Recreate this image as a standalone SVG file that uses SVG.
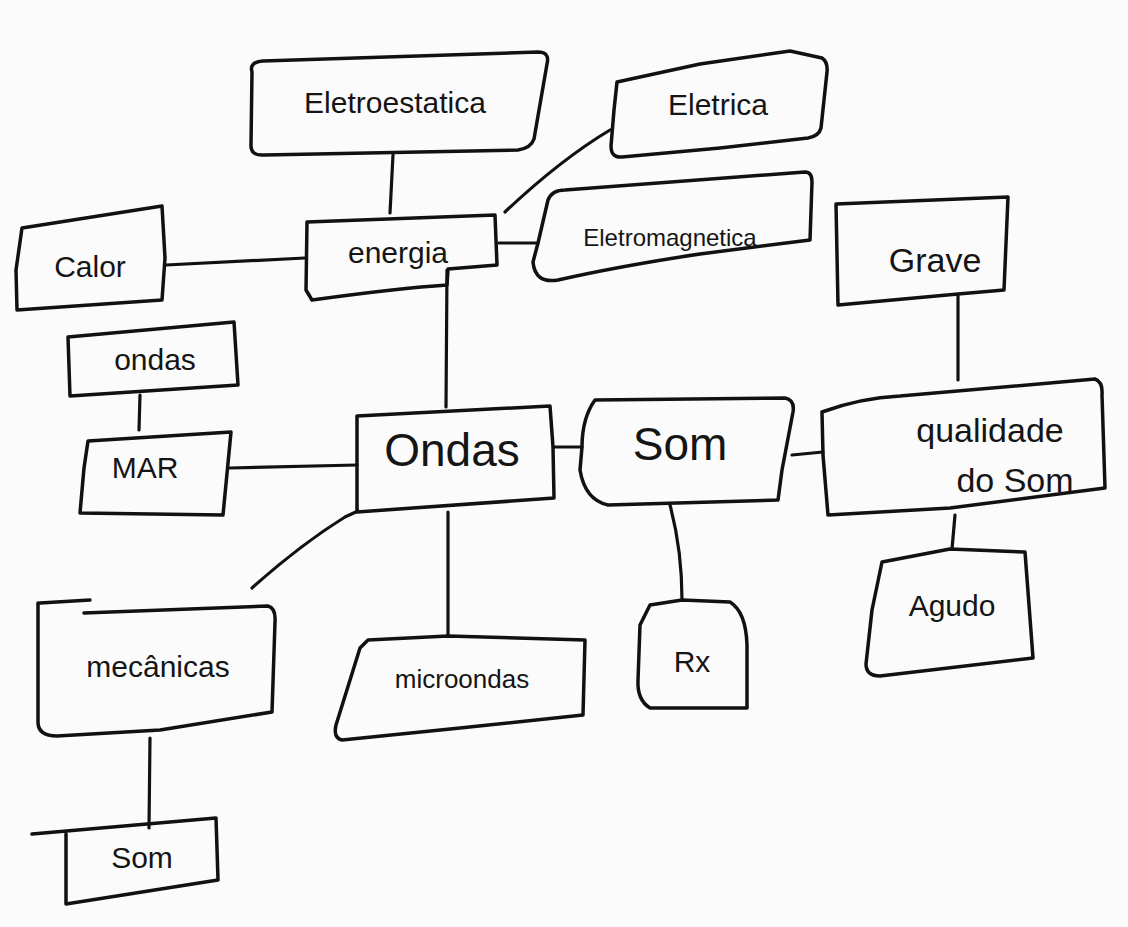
<svg xmlns="http://www.w3.org/2000/svg" width="1128" height="927" viewBox="0 0 1128 927">
  <style>
    .box { fill: none; stroke: #111; stroke-width: 3.5; stroke-linejoin: round; stroke-linecap: round; }
    .edge { fill: none; stroke: #111; stroke-width: 3.2; stroke-linecap: round; }
    .lbl { font-family: "Liberation Sans", Arial, sans-serif; fill: #151515; text-anchor: middle; font-size: 30px; }
    .big { font-size: 46px; }
  </style>
  <rect width="1128" height="927" fill="#fbfbfb"/>

  <!-- connectors -->
  <g id="connectors">
    <path class="edge" d="M393,155 L390,213"/>
    <path class="edge" d="M610,130 Q560,160 505,212"/>
    <path class="edge" d="M499,243 L538,243"/>
    <path class="edge" d="M166,265 L305,258"/>
    <path class="edge" d="M447,270 L446,407"/>
    <path class="edge" d="M140,395 L139,430"/>
    <path class="edge" d="M230,468 L357,465"/>
    <path class="edge" d="M554,447 L582,447"/>
    <path class="edge" d="M358,511 L345,517 Q300,545 252,588"/>
    <path class="edge" d="M448,512 L448,635"/>
    <path class="edge" d="M670,505 Q682,550 682,600"/>
    <path class="edge" d="M792,455 L823,452"/>
    <path class="edge" d="M958,296 L958,380"/>
    <path class="edge" d="M955,515 L952,549"/>
    <path class="edge" d="M150,738 L149,828"/>
  </g>

  <g id="eletroestatica">
    <path class="box" d="M252,72 Q249,62 263,61 L538,52 Q550,52 547,64 L534,139 Q531,148 518,150 L264,155 Q250,156 251,144 Z"/>
    <text class="lbl" x="395" y="113">Eletroestatica</text>
  </g>

  <g id="eletrica">
    <path class="box" d="M617,82 L700,64 L790,51 L822,58 Q828,62 827,72 L821,128 Q819,136 808,138 L720,148 L622,157 Q611,158 611,146 L614,110 Z"/>
    <text class="lbl" x="718" y="115">Eletrica</text>
  </g>

  <g id="energia">
    <path class="box" d="M307,222 L495,215 L497,265 L448,269 L447,285 Q400,288 312,300 L306,290 Z"/>
    <text class="lbl" x="398" y="263">energia</text>
  </g>

  <g id="eletromagnetica">
    <path class="box" d="M548,200 Q552,190 565,190 L805,172 Q812,172 812,182 L810,240 L700,254 Q620,266 558,280 Q535,284 533,262 L538,243 Z"/>
    <text class="lbl" x="670" y="246" style="font-size:24px">Eletromagnetica</text>
  </g>

  <g id="calor">
    <path class="box" d="M22,228 L162,206 L165,258 L162,300 L17,310 L16,270 Z"/>
    <text class="lbl" x="90" y="277">Calor</text>
  </g>

  <g id="grave">
    <path class="box" d="M836,204 L1008,197 L1004,290 L958,294 L838,305 Z"/>
    <text class="lbl" x="935" y="272" style="font-size:34px">Grave</text>
  </g>

  <g id="ondas-small">
    <path class="box" d="M68,337 L234,322 L238,385 L70,396 Z"/>
    <text class="lbl" x="155" y="370">ondas</text>
  </g>

  <g id="mar">
    <path class="box" d="M88,441 L231,432 L223,515 L80,513 L84,468 Z"/>
    <text class="lbl" x="145" y="478">MAR</text>
  </g>

  <g id="ondas">
    <path class="box" d="M357,416 L550,406 L553,447 L554,498 Q450,505 357,512 Z"/>
    <text class="lbl big" x="452" y="466">Ondas</text>
  </g>

  <g id="som">
    <path class="box" d="M595,400 L785,398 Q795,400 793,412 L782,470 L778,500 L608,505 Q585,500 580,470 L582,447 Q582,418 595,400 Z"/>
    <text class="lbl big" x="680" y="460">Som</text>
  </g>

  <g id="qualidade">
    <path class="box" d="M822,412 Q860,398 900,396 L1095,379 Q1103,382 1102,395 L1105,488 L950,508 L828,515 L823,455 Z"/>
    <text class="lbl" x="990" y="442" style="font-size:34px">qualidade</text>
    <text class="lbl" x="1015" y="492" style="font-size:34px">do Som</text>
  </g>

  <g id="agudo">
    <path class="box" d="M882,562 L950,549 L1025,552 L1033,658 L880,676 Q866,676 866,664 L872,610 Z"/>
    <text class="lbl" x="952" y="616">Agudo</text>
  </g>

  <g id="rx">
    <path class="box" d="M650,605 L682,600 L730,602 Q746,612 747,645 L747,708 L650,708 Q637,700 638,680 L640,625 Z"/>
    <text class="lbl" x="692" y="672">Rx</text>
  </g>

  <g id="microondas">
    <path class="box" d="M368,640 L448,636 L585,640 L583,715 L460,728 L342,740 Q333,738 336,725 L360,648 Z"/>
    <text class="lbl" x="462" y="688" style="font-size:26px">microondas</text>
  </g>

  <g id="mecanicas">
    <path class="box" d="M40,603 L90,600"/>
    <path class="box" d="M84,613 L268,606 Q276,608 275,622 L272,712 L160,730 L57,736 Q38,736 38,722 L38,603"/>
    <text class="lbl" x="158" y="677">mecânicas</text>
  </g>

  <g id="som-2">
    <path class="box" d="M32,834 L216,818 L218,880 L66,904 L66,834"/>
    <text class="lbl" x="142" y="868">Som</text>
  </g>
</svg>
